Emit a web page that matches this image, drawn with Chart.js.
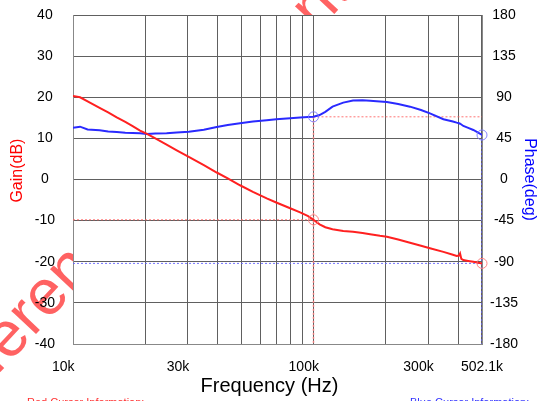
<!DOCTYPE html>
<html>
<head>
<meta charset="utf-8">
<script src="https://cdn.jsdelivr.net/npm/chart.js@4.4.1/dist/chart.umd.min.js"></script>
<style>
  html, body { margin: 0; padding: 0; background: #fff; }
</style>
</head>
<body>
<canvas id="bode" width="539" height="401"></canvas>
<script>
// measured response
const freqHz = [10000, 10700, 11500, 12900, 14000, 15200, 16500, 17700, 19000, 20300,
  22000, 24500, 27000, 30300, 35000, 39600, 44000, 49500, 56000, 63900,
  70000, 80000, 88000, 95000, 100000, 106000, 112000, 120000, 133000, 146000,
  160000, 172000, 189000, 202000, 225000, 252000, 280000, 305000, 347000, 380000,
  394000, 403000, 407000, 412000, 420000, 440000, 462000, 480000, 502100];
const gainDb = [20.3, 20.0, 19.0, 17.4, 16.3, 15.1, 14.0, 13.0, 11.9, 11.1,
  10.0, 8.5, 7.1, 5.5, 3.5, 1.7, 0.3, -1.4, -3.0, -4.6,
  -5.6, -7.0, -8.0, -8.9, -9.8, -10.9, -11.6, -12.1, -12.5, -12.7,
  -13.0, -13.3, -13.7, -13.9, -14.6, -15.4, -16.1, -16.7, -17.6, -18.3,
  -18.6, -18.5, -18.0, -19.3, -19.6, -19.8, -20.0, -20.2, -20.4];
const phaseDeg = [56.5, 57.8, 54.8, 54.0, 52.6, 52.0, 51.2, 51.0, 50.5, 49.9,
  50.4, 50.6, 51.4, 52.3, 54.5, 57.4, 59.6, 61.6, 63.4, 64.8,
  66.0, 67.1, 67.8, 68.3, 68.6, 70.5, 74.0, 79.7, 84.1, 86.5,
  86.6, 86.2, 85.3, 84.8, 82.6, 79.7, 76.0, 72.4, 66.0, 63.5,
  62.2, 61.5, 61.0, 60.2, 58.6, 56.5, 54.2, 51.8, 48.7];

const xGridHz = [10000, 20000, 30000, 40000, 50000, 60000, 70000, 80000, 90000,
  100000, 200000, 300000, 400000, 500000, 502100];
const xTickHz = [10000, 30000, 100000, 300000, 502100];
const xTickLabels = ['10k', '30k', '100k', '300k', '502.1k'];

// cursors: red at index 0, blue at index 1
const cursorHz = [100000, 502100];
const cursorGain = [-9.8, -20.4];
const cursorPhase = [68.6, 48.7];

const F_MIN = 10000, F_MAX = 502100;
const FONT = '"Liberation Sans", Arial, sans-serif';
Chart.defaults.font.family = FONT;

const pts = (xs, ys) => xs.map((x, i) => ({ x: x, y: ys[i] }));

const backdrop = {
  id: 'backdrop',
  beforeDraw(chart) {
    const { ctx, chartArea: a } = chart;
    ctx.save();
    const fs = 64;
    ctx.font = fs + 'px ' + FONT;
    ctx.fillStyle = 'rgba(255, 70, 70, 0.85)';
    const ang = -47 * Math.PI / 180;
    const along = ctx.measureText('Refe').width + ctx.measureText('r').width / 2;
    const up = fs * 0.26;
    const c = Math.cos(ang), s = Math.sin(ang);
    const ox = 28 - (along * c + up * s);
    const oy = 318 - (along * s - up * c);
    ctx.translate(ox, oy);
    ctx.rotate(ang);
    ctx.fillText('Reference Document', 0, 0);
    ctx.restore();
    ctx.save();
    ctx.fillStyle = '#fff';
    ctx.fillRect(a.left, a.top, a.right - a.left, a.bottom - a.top);
    ctx.restore();
  },
  afterDraw(chart) {
    const ctx = chart.ctx;
    ctx.save();
    ctx.font = '11px ' + FONT;
    ctx.textBaseline = 'alphabetic';
    ctx.fillStyle = '#ff3030';
    ctx.fillText('Red Cursor Information:', 27, 406);
    ctx.fillStyle = '#3030ff';
    ctx.fillText('Blue Cursor Information:', 410, 406);
    ctx.restore();
  }
};

const dotted = (data, axis, color, width) => ({
  data: data, yAxisID: axis, borderColor: color, borderWidth: width,
  borderDash: [2, 2], pointRadius: 0, tension: 0, order: 5
});

const noPadY = (w) => (s) => { s.width = w; s.paddingTop = 0; s.paddingBottom = 0; };

new Chart(document.getElementById('bode'), {
  type: 'line',
  data: {
    datasets: [
      { data: pts(freqHz, gainDb), yAxisID: 'y', borderColor: '#ff2020', borderWidth: 2,
        pointRadius: 0, tension: 0, order: 2 },
      { data: pts(freqHz, phaseDeg), yAxisID: 'y1', borderColor: '#2a2aff', borderWidth: 2,
        pointRadius: 0, tension: 0, order: 2 },
      dotted([{ x: F_MIN, y: cursorGain[0] }, { x: cursorHz[0], y: cursorGain[0] }], 'y', 'rgba(255,90,90,0.85)', 1),
      dotted([{ x: cursorHz[0], y: cursorPhase[0] }, { x: F_MAX, y: cursorPhase[0] }], 'y1', 'rgba(255,90,90,0.85)', 1),
      dotted([{ x: cursorHz[0], y: cursorPhase[0] }, { x: cursorHz[0], y: -180 }], 'y1', 'rgba(255,130,130,0.9)', 1.5),
      dotted([{ x: F_MIN, y: cursorGain[1] }, { x: cursorHz[1], y: cursorGain[1] }], 'y', 'rgba(100,100,255,0.9)', 1),
      dotted([{ x: cursorHz[1], y: cursorPhase[1] }, { x: cursorHz[1], y: -180 }], 'y1', 'rgba(100,100,255,0.9)', 1.5),
      { data: pts(cursorHz, cursorGain), yAxisID: 'y', showLine: false, pointRadius: 5,
        pointBorderColor: 'rgba(255,120,120,0.9)', pointBackgroundColor: 'rgba(0,0,0,0)',
        pointBorderWidth: 1, clip: false, order: 1 },
      { data: pts(cursorHz, cursorPhase), yAxisID: 'y1', showLine: false, pointRadius: 5,
        pointBorderColor: 'rgba(120,120,255,0.9)', pointBackgroundColor: 'rgba(0,0,0,0)',
        pointBorderWidth: 1, clip: false, order: 1 }
    ]
  },
  options: {
    responsive: false,
    animation: false,
    layout: { padding: { top: 15, left: 0, right: 0, bottom: 0 } },
    plugins: {
      legend: { display: false },
      tooltip: { enabled: false },
      title: {
        display: true, position: 'bottom', text: 'Frequency (Hz)', color: '#000',
        font: { size: 20, weight: 'normal' }, padding: { top: 0, bottom: 3 }
      }
    },
    scales: {
      x: {
        type: 'logarithmic', min: F_MIN, max: F_MAX,
        afterBuildTicks: (s) => { s.ticks = xGridHz.map(v => ({ value: v })); },
        afterFit: (s) => { s.height = 30; s.paddingLeft = 0; s.paddingRight = 0; },
        grid: { color: '#606060', drawTicks: false },
        border: { color: '#888' },
        ticks: {
          autoSkip: false, maxRotation: 0, padding: 15, color: '#000', font: { size: 14 },
          callback: (v) => {
            const i = xTickHz.indexOf(v);
            if (i < 0) return '';
            return i < xTickHz.length - 1 ? xTickLabels[i] + '     ' : xTickLabels[i];
          }
        }
      },
      y: {
        position: 'left', min: -40, max: 40,
        afterFit: noPadY(73),
        grid: { color: '#606060', drawTicks: false },
        border: { color: '#888' },
        ticks: { stepSize: 10, crossAlign: 'center', padding: 18, color: '#000', font: { size: 14 } },
        title: { display: true, text: '    Gain(dB)', color: '#ff0000', font: { size: 16 },
          padding: { top: 8, bottom: 0 } }
      },
      y1: {
        position: 'right', min: -180, max: 180,
        afterFit: noPadY(57),
        grid: { drawOnChartArea: false, drawTicks: false },
        border: { color: '#888' },
        ticks: { stepSize: 45, crossAlign: 'center', padding: 8, color: '#000', font: { size: 14 } },
        title: { display: true, text: 'Phase(deg)', color: '#0000ff', font: { size: 16 },
          padding: { top: 0, bottom: 0 } }
      }
    }
  },
  plugins: [backdrop]
});
</script>
</body>
</html>
